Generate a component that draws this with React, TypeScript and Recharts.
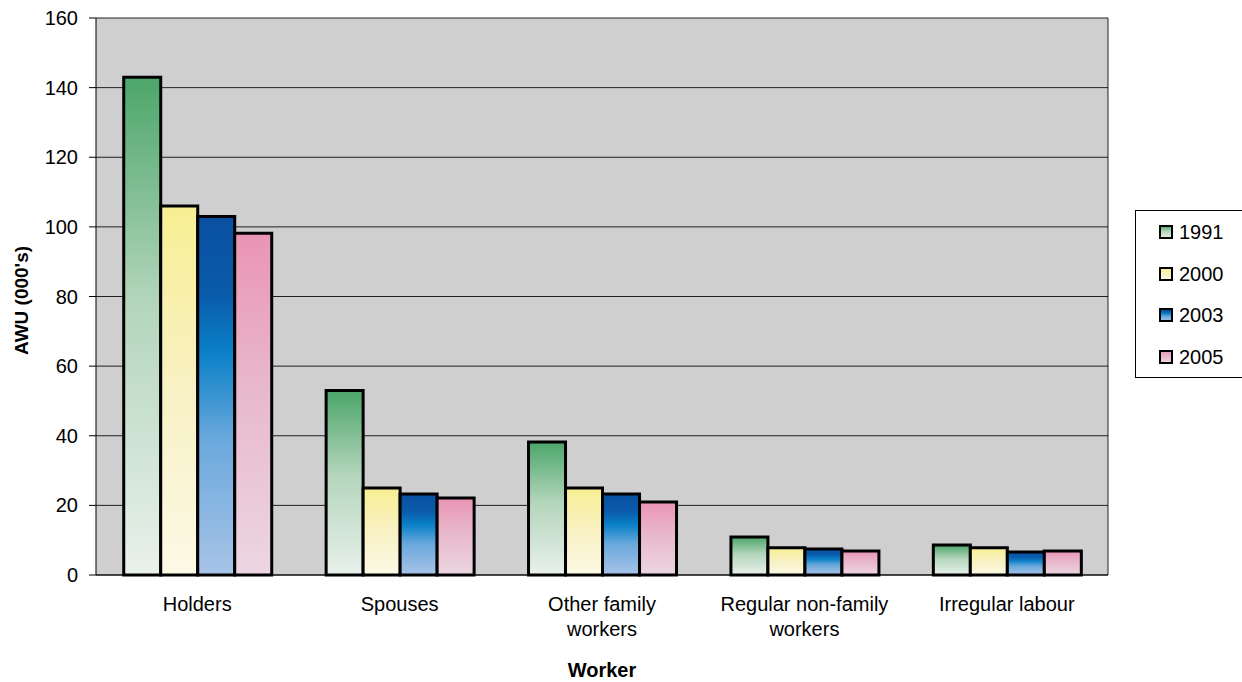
import React from "react";
import {
  BarChart,
  Bar,
  XAxis,
  YAxis,
  CartesianGrid,
  Label,
} from "recharts";

const categories = [
  "Holders",
  "Spouses",
  "Other family\nworkers",
  "Regular non-family\nworkers",
  "Irregular labour",
];
const series1991 = [143, 53, 38.2, 10.9, 8.6];
const series2000 = [106, 25, 25, 7.8, 7.8];
const series2003 = [103, 23.3, 23.3, 7.5, 6.6];
const series2005 = [98.2, 22.1, 21, 6.9, 6.9];
const yTicks = [0, 20, 40, 60, 80, 100, 120, 140, 160];
const seriesNames = ["1991", "2000", "2003", "2005"];
const gradIds = ["g1991", "g2000", "g2003", "g2005"];

const data = categories.map((c, i) => ({
  name: c,
  "1991": series1991[i],
  "2000": series2000[i],
  "2003": series2003[i],
  "2005": series2005[i],
}));

const FONT = '"Liberation Sans", Arial, sans-serif';
const FS = 20;

const XTick = (props: any) => {
  const { x, y, payload } = props;
  const lines = String(payload.value).split("\n");
  return (
    <text x={x} y={y} textAnchor="middle" fontFamily={FONT} fontSize={FS} fill="#000">
      {lines.map((l, i) => (
        <tspan key={i} x={x} dy={i === 0 ? 28 : 25}>
          {l}
        </tspan>
      ))}
    </text>
  );
};

const LegendBox = () => (
  <div
    style={{
      position: "absolute",
      left: 1135,
      top: 210,
      width: 120,
      height: 168,
      boxSizing: "border-box",
      border: "1px solid #000",
      background: "#fff",
      paddingLeft: 23,
      fontFamily: FONT,
      fontSize: FS,
      lineHeight: 1,
    }}
  >
    {seriesNames.map((n, i) => (
      <div key={n} style={{ display: "flex", alignItems: "center", height: 41.7 }}>
        <svg width={14} height={14} style={{ marginRight: 6, display: "block" }}>
          <rect
            x={1}
            y={1}
            width={12}
            height={12}
            fill={`url(#${gradIds[i]})`}
            stroke="#000"
            strokeWidth={2}
          />
        </svg>
        <span>{n}</span>
      </div>
    ))}
  </div>
);

export default function App() {
  return (
    <div
      style={{
        position: "absolute",
        left: 0,
        top: 0,
        width: 1242,
        height: 682,
        background: "#fff",
        overflow: "hidden",
      }}
    >
      <BarChart
        width={1242}
        height={682}
        data={data}
        margin={{ top: 18, right: 134, bottom: 0, left: 0 }}
        barCategoryGap="13.7%"
        barGap={0}
      >
        <defs>
          <linearGradient id="g1991" x1="0" y1="0" x2="0" y2="1">
            <stop offset="0%" stopColor="#4ca66a" />
            <stop offset="45%" stopColor="#b3d5bb" />
            <stop offset="100%" stopColor="#e9f1eb" />
          </linearGradient>
          <linearGradient id="g2000" x1="0" y1="0" x2="0" y2="1">
            <stop offset="0%" stopColor="#f8ef93" />
            <stop offset="50%" stopColor="#f8f1c4" />
            <stop offset="100%" stopColor="#fcf9e6" />
          </linearGradient>
          <linearGradient id="g2003" x1="0" y1="0" x2="0" y2="1">
            <stop offset="0%" stopColor="#0a4fa0" />
            <stop offset="22%" stopColor="#0a5cab" />
            <stop offset="38%" stopColor="#0a80c8" />
            <stop offset="62%" stopColor="#6aa8dc" />
            <stop offset="100%" stopColor="#a8c4e8" />
          </linearGradient>
          <linearGradient id="g2005" x1="0" y1="0" x2="0" y2="1">
            <stop offset="0%" stopColor="#ea94b4" />
            <stop offset="45%" stopColor="#e8b8cc" />
            <stop offset="100%" stopColor="#ecd6e2" />
          </linearGradient>
        </defs>
        <CartesianGrid
          fill="#cfcfcf"
          stroke="#000"
          strokeOpacity={0.85}
          horizontal={true}
          vertical={true}
          verticalCoordinatesGenerator={({ offset }: any) => [offset.left + offset.width]}
        />
        <XAxis
          xAxisId="t"
          type="number"
          domain={[0, 5]}
          ticks={[0, 1, 2, 3, 4, 5]}
          tick={false}
          axisLine={false}
          tickLine={{ stroke: "#000" }}
          tickSize={7}
          height={0}
        />
        <XAxis
          dataKey="name"
          interval={0}
          axisLine={{ stroke: "#000" }}
          tickLine={false}
          tick={<XTick />}
          height={107}
        >
          <Label
            content={({ viewBox }: any) => (
              <text
                x={viewBox.x + viewBox.width / 2}
                y={677}
                textAnchor="middle"
                fontFamily={FONT}
                fontSize={FS}
                fontWeight="bold"
              >
                Worker
              </text>
            )}
          />
        </XAxis>
        <YAxis
          width={96}
          domain={[0, 160]}
          ticks={yTicks}
          interval={0}
          axisLine={{ stroke: "#000" }}
          tickLine={{ stroke: "#000" }}
          tickSize={7}
          tickMargin={11}
          tick={{ fontFamily: FONT, fontSize: FS, fill: "#000" }}
        >
          <Label
            content={({ viewBox }: any) => {
              const cy = viewBox.y + viewBox.height / 2 + 4;
              return (
                <text
                  x={28}
                  y={cy}
                  transform={`rotate(-90, 28, ${cy})`}
                  textAnchor="middle"
                  fontFamily={FONT}
                  fontSize={19}
                  fontWeight="bold"
                >
                  AWU (000's)
                </text>
              );
            }}
          />
        </YAxis>
        {seriesNames.map((n, i) => (
          <Bar
            key={n}
            dataKey={n}
            fill={`url(#${gradIds[i]})`}
            stroke="#000"
            strokeWidth={3}
            isAnimationActive={false}
          />
        ))}
      </BarChart>
      <LegendBox />
    </div>
  );
}
